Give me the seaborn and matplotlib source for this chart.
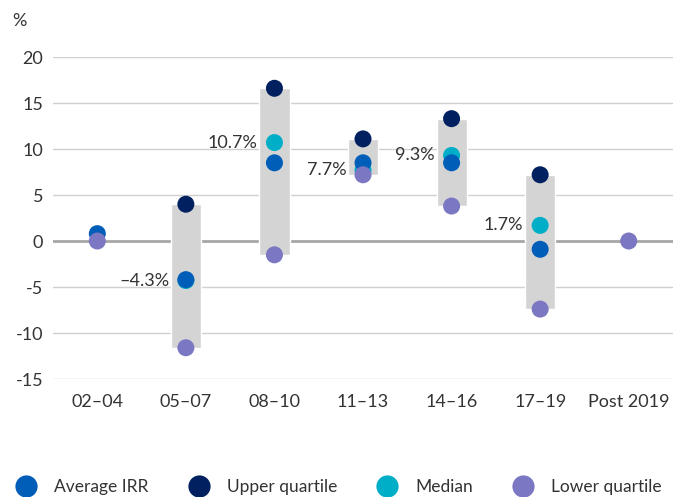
import numpy as np
import pandas as pd
import matplotlib
matplotlib.use("Agg")
import matplotlib.pyplot as plt
import seaborn as sns
from matplotlib.lines import Line2D

# Vintage years and IRR statistics (%)
vintages = ["02–04", "05–07", "08–10", "11–13", "14–16", "17–19", "Post 2019"]
average_irr = [0.8, -4.2, 8.5, 8.5, 8.5, -0.9, np.nan]
upper_quartile = [np.nan, 4.0, 16.6, 11.1, 13.3, 7.2, np.nan]
median = [np.nan, -4.3, 10.7, 7.7, 9.3, 1.7, np.nan]
lower_quartile = [0.0, -11.6, -1.5, 7.2, 3.8, -7.4, 0.0]
median_labels = [None, -4.3, 10.7, 7.7, 9.3, 1.7, None]

y_ticks = [-15, -10, -5, 0, 5, 10, 15, 20]

series_names = ["Average IRR", "Upper quartile", "Median", "Lower quartile"]
colors = {
    "Average IRR": "#005EB8",
    "Upper quartile": "#002060",
    "Median": "#00AEC7",
    "Lower quartile": "#7B77C2",
}

df = pd.DataFrame({
    "vintage": vintages,
    "pos": np.arange(len(vintages)),
    "Average IRR": average_irr,
    "Upper quartile": upper_quartile,
    "Median": median,
    "Lower quartile": lower_quartile,
})
long = df.melt(id_vars=["vintage", "pos"], var_name="series", value_name="irr").dropna()

sns.set_theme(style="white")
plt.rcParams["font.family"] = ["Lato", "DejaVu Sans"]
text_color = "#333333"
fs = 13

fig = plt.figure(figsize=(6.73, 4.97), dpi=100)
ax = fig.add_axes([0.0788, 0.2374, 0.9212, 0.6479])

# Gridlines
for t in y_ticks:
    if t == 0:
        continue
    ax.axhline(t, color="#D0D0D0", lw=1.0, zorder=0)
ax.axhline(0, color="#A6A6A6", lw=2.0, zorder=1)

# Interquartile range boxes
pos = df["pos"].to_numpy()
lo = np.array(lower_quartile, dtype=float)
hi = np.array(upper_quartile, dtype=float)
mask = ~np.isnan(hi)
ax.bar(pos[mask], (hi - lo)[mask], bottom=lo[mask], width=0.34,
       color="#D4D4D4", zorder=2)

# Points, drawn in layers so the quartiles sit on top
draw_order = ["Median", "Average IRR", "Upper quartile", "Lower quartile"]
for i, name in enumerate(draw_order):
    sub = long[long["series"] == name]
    sns.scatterplot(data=sub, x="pos", y="irr", ax=ax, color=colors[name],
                    s=150, edgecolor="none", linewidth=0, zorder=3 + i,
                    legend=False)

# Median value labels
for i, v in enumerate(median_labels):
    if v is None:
        continue
    txt = f"{v:.1f}%".replace("-", "–")
    ax.annotate(txt, xy=(i, v), xytext=(-12, 0), textcoords="offset points",
                ha="right", va="center", fontsize=fs, color=text_color,
                zorder=10)

ax.set_xlim(-0.5, len(vintages) - 0.5)
ax.set_ylim(-15, 20)
ax.set_yticks(y_ticks)
ax.set_yticklabels([f"{t}" for t in y_ticks])
ax.set_xticks(pos)
ax.set_xticklabels(vintages)
ax.set_xlabel("")
ax.set_ylabel("")
ax.tick_params(axis="both", length=0, labelsize=fs, colors=text_color)
ax.tick_params(axis="y", pad=7)
ax.tick_params(axis="x", pad=11)
for s in ax.spines.values():
    s.set_visible(False)
ax.grid(False)

fig.text(0.018, 0.958, "%", fontsize=fs, color=text_color, va="center")

handles = [Line2D([0], [0], marker="o", linestyle="none", markersize=16,
                  markerfacecolor=colors[n], markeredgewidth=0) for n in series_names]
fig.legend(handles, series_names, loc="center left", bbox_to_anchor=(-0.010, 0.02),
           ncol=4, frameon=False, fontsize=12.5, handletextpad=0.6,
           columnspacing=1.9, labelcolor=text_color)

fig.savefig("out.png", dpi=100)
